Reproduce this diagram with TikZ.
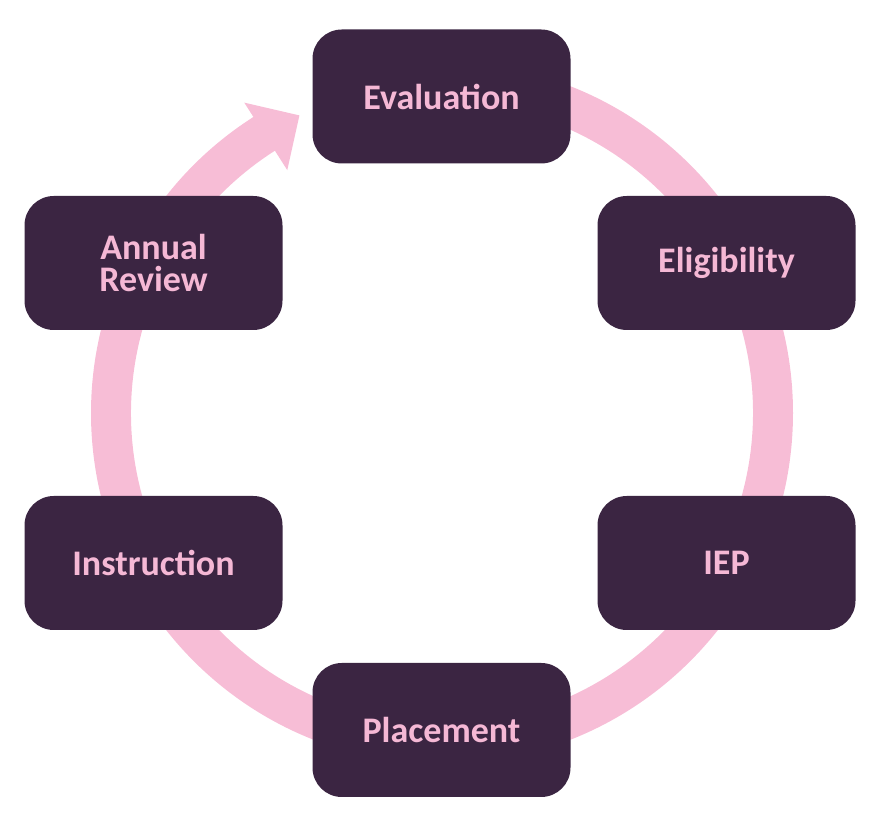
\documentclass[tikz,border=0pt]{standalone}
\usepackage{fontspec}
\setmainfont{Carlito}
\usetikzlibrary{calc}
\definecolor{boxfill}{HTML}{3B2542}
\definecolor{boxtext}{HTML}{F5B8D5}
\definecolor{ringpink}{HTML}{F7BDD6}
\tikzset{
  stagebox/.style={fill=boxfill, rounded corners=22pt, minimum width=193.5pt, minimum height=100.5pt,
    text=boxtext, font=\fontsize{27}{23.5}\selectfont\bfseries, align=center, inner sep=0pt},
  ringfill/.style={fill=ringpink}
}
\begin{document}
\begin{tikzpicture}[x=0.75pt,y=0.75pt]
\useasboundingbox (0,0) rectangle (883,835);
\coordinate (c) at (442,422);
% ring with arrowhead
\fill[ringfill] ($(c)+(90:351)$) arc[start angle=90, end angle=-237.5, radius=263.25pt]
  -- ($(c)+(-237.5:368)$) -- ($(c)+(-244.4:330)$) -- ($(c)+(-237.5:288)$)
  -- ($(c)+(-237.5:311)$) arc[start angle=-237.5, end angle=90, radius=233.25pt] -- cycle;
% stages
\node[stagebox] (eval) at (441.5,738.5) {Evaluation};
\node[stagebox] (elig) at (726.5,572) {Eligibility};
\node[stagebox] (iep) at (726.5,272) {IEP};
\node[stagebox] (place) at (441.5,105) {Placement};
\node[stagebox] (instr) at (153.5,272) {Instruction};
\node[stagebox] (annual) at (153.5,572) {Annual\\Review};
\end{tikzpicture}
\end{document}
